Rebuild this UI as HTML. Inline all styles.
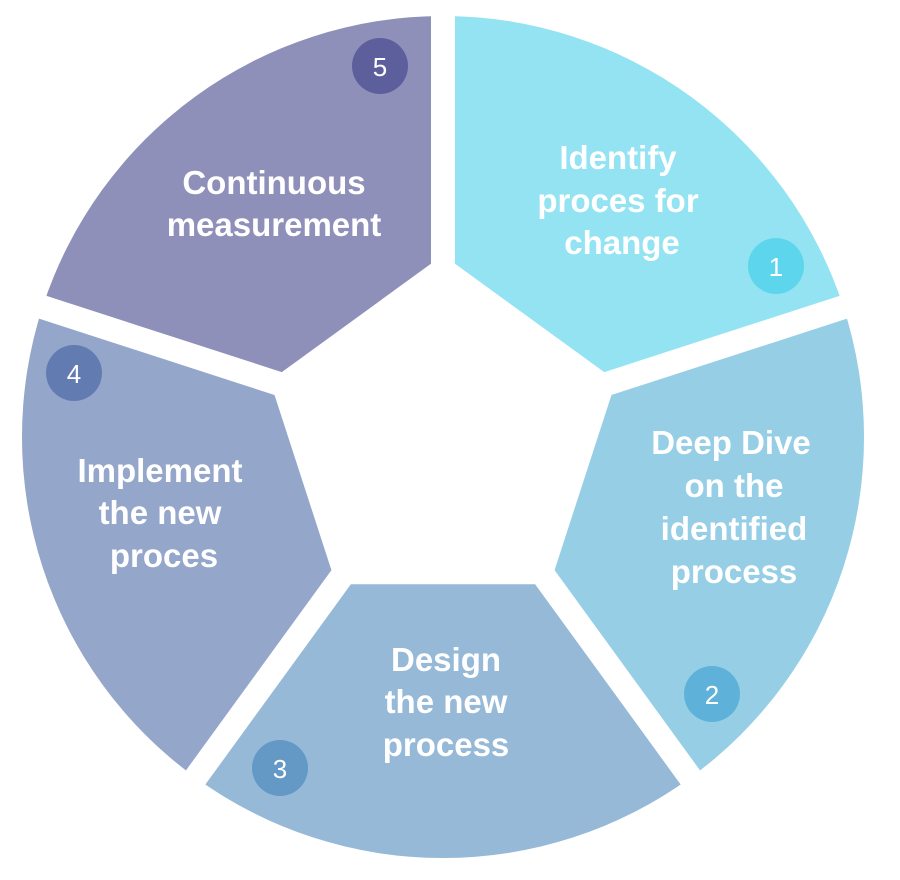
<!DOCTYPE html>
<html><head><meta charset="utf-8"><style>
html,body{margin:0;padding:0;background:#fff;width:900px;height:880px;overflow:hidden}
svg{display:block}
text{font-family:"Liberation Sans",sans-serif;fill:#fff}
.t{font-size:33px;font-weight:bold;text-anchor:middle}
.n{font-size:26px;text-anchor:middle}
</style></head><body>
<svg width="900" height="880" viewBox="0 0 900 880">
<path d="M443,437 L443,16 A421,421 0 0 1 843.4,306.9 Z" fill="#93e3f3"/>
<path d="M443,437 L843.4,306.9 A421,421 0 0 1 690.5,777.6 Z" fill="#96cee6"/>
<path d="M443,437 L690.5,777.6 A421,421 0 0 1 195.5,777.6 Z" fill="#96b9d7"/>
<path d="M443,437 L195.5,777.6 A421,421 0 0 1 42.6,306.9 Z" fill="#94a6ca"/>
<path d="M443,437 L42.6,306.9 A421,421 0 0 1 443,16 Z" fill="#8f90b9"/>
<g stroke="#fff" stroke-width="24">
<line x1="443" y1="437" x2="443" y2="0"/>
<line x1="443" y1="437" x2="881" y2="295"/>
<line x1="443" y1="437" x2="714" y2="810"/>
<line x1="443" y1="437" x2="172" y2="810"/>
<line x1="443" y1="437" x2="5" y2="295"/>
</g>
<polygon points="443,255 616.1,380.8 550,584.2 336,584.2 269.9,380.8" fill="#fff"/>
<text class="t" x="618" y="169">Identify</text>
<text class="t" x="618" y="212">proces for</text>
<text class="t" x="622" y="254">change</text>
<text class="t" x="731" y="454">Deep Dive</text>
<text class="t" x="734" y="497">on the</text>
<text class="t" x="734" y="540">identified</text>
<text class="t" x="734" y="583">process</text>
<text class="t" x="446" y="671">Design</text>
<text class="t" x="446" y="713">the new</text>
<text class="t" x="446" y="756">process</text>
<text class="t" x="160" y="482">Implement</text>
<text class="t" x="160" y="524">the new</text>
<text class="t" x="164" y="567">proces</text>
<text class="t" x="274" y="194">Continuous</text>
<text class="t" x="274" y="236">measurement</text>
<circle cx="776" cy="266" r="28" fill="#5dd5ed"/><text class="n" x="776" y="276">1</text>
<circle cx="712" cy="694" r="28" fill="#5eb2d9"/><text class="n" x="712" y="704">2</text>
<circle cx="280" cy="768" r="28" fill="#6498c5"/><text class="n" x="280" y="778">3</text>
<circle cx="74" cy="373" r="28" fill="#627bb1"/><text class="n" x="74" y="383">4</text>
<circle cx="380" cy="66" r="28" fill="#5d5f9d"/><text class="n" x="380" y="76">5</text>
</svg>
</body></html>
